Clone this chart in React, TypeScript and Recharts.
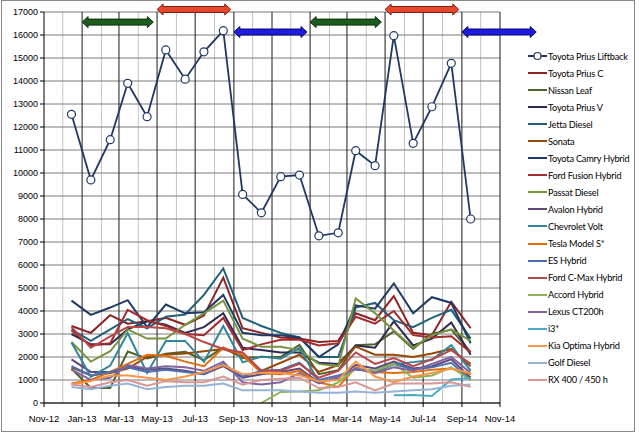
import { LineChart, Line, XAxis, YAxis, CartesianGrid, Legend, ReferenceLine } from 'recharts'

// monthly sales, plotted mid-month
const MONTHS = [
  '2012-12', '2013-01', '2013-02', '2013-03', '2013-04', '2013-05', '2013-06', '2013-07', '2013-08', '2013-09', '2013-10',
  '2013-11', '2013-12', '2014-01', '2014-02', '2014-03', '2014-04', '2014-05', '2014-06', '2014-07', '2014-08', '2014-09',
]

const PRIUS_LIFTBACK = [12550, 9700, 11450, 13900, 12450, 15350, 14080, 15270, 16190, 9070, 8270, 9840, 9910, 7270, 7400, 10970, 10320, 15970, 11290, 12880, 14770, 8000]
const PRIUS_C = [3350, 3050, 3820, 3450, 3550, 3700, 3400, 3800, 5450, 3250, 3050, 2850, 2800, 2650, 2700, 3900, 3600, 4650, 3050, 2950, 4400, 3250]
const NISSAN_LEAF = [1489, 650, 653, 2236, 1937, 2138, 2225, 1864, 2420, 1953, 2002, 2003, 2529, 1252, 1425, 2507, 2555, 3117, 2347, 3019, 3186, 2207]
const PRIUS_V = [3000, 2550, 2550, 3200, 3550, 3400, 3050, 3300, 3900, 2400, 2300, 2200, 2200, 1750, 1700, 2500, 2400, 3550, 2500, 2800, 3500, 2100]
const JETTA_DIESEL = [3200, 2700, 3200, 3650, 3250, 3750, 3850, 4700, 5850, 3700, 3350, 3050, 2850, 2000, 2000, 4150, 4350, 3600, 3300, 3700, 4050, 2800]
const SONATA = [1550, 1200, 1300, 1500, 2000, 2100, 2150, 2250, 2350, 2050, 1400, 1750, 2100, 1350, 1650, 2450, 2100, 2100, 2000, 2150, 2350, 1600]
const CAMRY_HYBRID = [4450, 3830, 4150, 4470, 3300, 4280, 3900, 3950, 4700, 3050, 2950, 2950, 2850, 2000, 2550, 4250, 4100, 5200, 3900, 4600, 4350, 2600]
const FUSION_HYBRID = [3150, 2500, 2600, 4050, 3600, 3350, 3000, 2950, 3700, 2300, 2550, 2750, 2750, 2500, 2600, 3750, 3450, 4000, 2950, 2850, 2900, 2200]
const PASSAT_DIESEL = [2650, 1800, 2250, 3200, 2800, 2800, 3400, 3900, 4450, 2800, 2450, 2450, 2300, 1700, 1600, 4550, 3900, 3150, 2400, 2950, 3200, 2700]
const AVALON_HYBRID = [1900, 1350, 1350, 1600, 1450, 1500, 1400, 1250, 1600, 1100, 1250, 1350, 1500, 900, 1100, 1650, 1500, 1800, 1500, 1600, 1900, 1100]
const CHEVROLET_VOLT = [2633, 1140, 1626, 3042, 1306, 2697, 2698, 1788, 3351, 1766, 2022, 1920, 2392, 918, 1092, 1478, 1324, 1684, 1777, 1873, 2511, 1394]
const TESLA_MODEL_S = [850, 1000, 1350, 1700, 2100, 2050, 1800, 1600, 2400, 2100, 1300, 1250, 1400, 900, 700, 1550, 1350, 1300, 1350, 1450, 1500, 1250]
const ES_HYBRID = [1600, 1200, 1350, 1550, 1350, 1450, 1350, 1250, 1700, 1150, 1400, 1450, 1750, 1000, 1200, 1450, 1400, 1700, 1450, 1550, 1750, 1000]
const CMAX_HYBRID = [3300, 2400, 2900, 3300, 3300, 3250, 3000, 2650, 2350, 2200, 1400, 1400, 1700, 1100, 1400, 2200, 1700, 1950, 1600, 1900, 2300, 1700]
const ACCORD_HYBRID = [null, null, null, null, null, null, null, null, null, null, 0, 480, 500, 550, 900, 1500, 1400, 1700, 1100, 1200, 1550, 1000]
const LEXUS_CT200H = [1450, 1000, 1100, 1650, 1500, 1600, 1550, 1400, 1800, 900, 800, 900, 1300, 850, 1150, 1500, 1300, 1550, 1400, 1700, 2000, 1300]
const BMW_I3 = [null, null, null, null, null, null, null, null, null, null, null, null, null, null, null, null, null, 336, 348, 300, 1025, 1092]
const KIA_OPTIMA = [800, 950, 1200, 1200, 1100, 1000, 1150, 1350, 1650, 1250, 1300, 1300, 1200, 950, 1000, 1800, 1150, 900, 1150, 1300, 1500, 1300]
const GOLF_DIESEL = [700, 600, 750, 850, 600, 700, 750, 750, 850, 550, 550, 550, 500, 450, 450, 500, 450, 500, 550, 600, 750, 800]
const RX_HYBRID = [800, 700, 900, 1000, 750, 950, 900, 900, 1150, 800, 1000, 1050, 1100, 650, 700, 900, 550, 850, 850, 850, 900, 700]

const SERIES = [
  { name: 'Toyota Prius Liftback', values: PRIUS_LIFTBACK },
  { name: 'Toyota Prius C', values: PRIUS_C },
  { name: 'Nissan Leaf', values: NISSAN_LEAF },
  { name: 'Toyota Prius V', values: PRIUS_V },
  { name: 'Jetta Diesel', values: JETTA_DIESEL },
  { name: 'Sonata', values: SONATA },
  { name: 'Toyota Camry Hybrid', values: CAMRY_HYBRID },
  { name: 'Ford Fusion Hybrid', values: FUSION_HYBRID },
  { name: 'Passat Diesel', values: PASSAT_DIESEL },
  { name: 'Avalon Hybrid', values: AVALON_HYBRID },
  { name: 'Chevrolet Volt', values: CHEVROLET_VOLT },
  { name: 'Tesla Model S*', values: TESLA_MODEL_S },
  { name: 'ES Hybrid', values: ES_HYBRID },
  { name: 'Ford C-Max Hybrid', values: CMAX_HYBRID },
  { name: 'Accord Hybrid', values: ACCORD_HYBRID },
  { name: 'Lexus CT200h', values: LEXUS_CT200H },
  { name: 'i3*', values: BMW_I3 },
  { name: 'Kia Optima Hybrid', values: KIA_OPTIMA },
  { name: 'Golf Diesel', values: GOLF_DIESEL },
  { name: 'RX 400 / 450 h', values: RX_HYBRID },
]

const COLORS = [
  '#1F3864', '#8E2222', '#4F6228', '#2E2A52', '#22607A', '#984807', '#1F3A66', '#A32B2B', '#77933C', '#5F497A',
  '#31859C', '#E46C0A', '#4A70B4', '#B8474A', '#8DB255', '#8064A2', '#4BACC6', '#F79646', '#95B3D7', '#D99694',
]

const Y_TICKS = [0, 1000, 2000, 3000, 4000, 5000, 6000, 7000, 8000, 9000, 10000, 11000, 12000, 13000, 14000, 15000, 16000, 17000]
const X_TICKS = ['2012-11', '2013-01', '2013-03', '2013-05', '2013-07', '2013-09', '2013-11', '2014-01', '2014-03', '2014-05', '2014-07', '2014-09', '2014-11']
const MINOR_MONTHS = ['2012-12', '2013-02', '2013-04', '2013-06', '2013-08', '2013-10', '2013-12', '2014-02', '2014-04', '2014-06', '2014-08', '2014-10']

// sales-period arrows drawn over the top of the plot
const PERIODS = [
  { from: '2013-01-01', to: '2013-04-25', kind: 'green' },
  { from: '2013-05-01', to: '2013-08-27', kind: 'red' },
  { from: '2013-09-01', to: '2013-12-27', kind: 'blue' },
  { from: '2014-01-01', to: '2014-04-25', kind: 'green' },
  { from: '2014-05-01', to: '2014-08-27', kind: 'red' },
  { from: '2014-09-01', to: '2014-12-29', kind: 'blue' },
]
const ARROW_KIND: Record<string, { y: number; fill: string; stroke: string }> = {
  green: { y: 16560, fill: '#1E5B1E', stroke: '#0B2E0B' },
  red: { y: 17110, fill: '#E8472B', stroke: '#7A1E10' },
  blue: { y: 16130, fill: '#1C1CE0', stroke: '#0A0A6A' },
}

const MON = ['Jan', 'Feb', 'Mar', 'Apr', 'May', 'Jun', 'Jul', 'Aug', 'Sep', 'Oct', 'Nov', 'Dec']
const NAMES = SERIES.map((s) => s.name)

function toTime(s: string, day = 15) {
  const [y, m, d] = s.split('-').map(Number)
  return Date.UTC(y, m - 1, d || day)
}

const fmtMonth = (t: number) => {
  const d = new Date(t)
  return `${MON[d.getUTCMonth()]}-${String(d.getUTCFullYear()).slice(2)}`
}

const data = MONTHS.map((ym, i) => {
  const row: Record<string, number | null> = { t: toTime(ym) }
  SERIES.forEach((s, k) => {
    row['s' + k] = s.values[i]
  })
  return row
})

function DoubleArrow(props: any) {
  const { x1, x2, y1, fill, stroke } = props
  const y = y1
  const hh = 5.5
  const sh = 3
  const hl = 6
  const d = `M${x1},${y} L${x1 + hl},${y - hh} L${x1 + hl},${y - sh} L${x2 - hl},${y - sh} L${x2 - hl},${y - hh} L${x2},${y} L${x2 - hl},${y + hh} L${x2 - hl},${y + sh} L${x1 + hl},${y + sh} L${x1 + hl},${y + hh} Z`
  return <path d={d} fill={fill} stroke={stroke} strokeWidth={1} strokeLinejoin="round" />
}

function renderLegend(props: any) {
  const items = [...(props.payload || [])].sort((a: any, b: any) => NAMES.indexOf(a.value) - NAMES.indexOf(b.value))
  return (
    <div>
      {items.map((e: any, i: number) => (
        <div key={i} style={{ height: 17.05, display: 'flex', alignItems: 'center', whiteSpace: 'nowrap' }}>
          <svg width={21} height={10} style={{ flex: 'none' }}>
            <line x1={1} y1={5} x2={20} y2={5} stroke={e.color} strokeWidth={2} />
            {e.type === 'line' && <circle cx={10.5} cy={5} r={3.5} fill="#fff" stroke={e.color} strokeWidth={1.2} />}
          </svg>
          <span style={{ fontSize: 9.2, letterSpacing: -0.2, color: '#000', fontFamily: 'Lato, sans-serif' }}>{e.value}</span>
        </div>
      ))}
    </div>
  )
}

export default function App() {
  const font = "'Liberation Sans', Arial, sans-serif"
  return (
    <div style={{ position: 'absolute', left: 0, top: 0, width: 639, height: 435, background: '#fff', fontFamily: font }}>
      <div style={{ position: 'absolute', left: 1, top: 0, width: 634, height: 432, border: '1.5px solid #8a8a8a', boxSizing: 'border-box' }} />
      <div style={{ position: 'absolute', left: 0, top: 0 }}>
        <LineChart width={639} height={435} data={data} margin={{ top: 12, right: 139, bottom: 0, left: 0 }}>
          <CartesianGrid horizontal={false} verticalValues={MINOR_MONTHS.map((m) => toTime(m, 1))} stroke="#c4c4c4" />
          <CartesianGrid vertical={false} stroke="#7a7a7a" />
          <CartesianGrid horizontal={false} verticalValues={X_TICKS.slice(1).map((m) => toTime(m, 1))} stroke="#1a1a1a" />
          <XAxis
            dataKey="t"
            type="number"
            domain={[toTime('2012-11', 1), toTime('2014-11', 1)]}
            ticks={X_TICKS.map((m) => toTime(m, 1))}
            tickFormatter={fmtMonth}
            interval={0}
            allowDataOverflow
            height={32}
            stroke="#000"
            tickSize={4}
            tickMargin={8}
            tick={{ fill: '#000', fontSize: 9.5 }}
          />
          <YAxis
            domain={[0, 17000]}
            ticks={Y_TICKS}
            interval={0}
            width={44}
            stroke="#000"
            tickSize={4}
            tickMargin={2}
            tick={{ fill: '#000', fontSize: 9 }}
          />
          {SERIES.map((s, k) => (
            <Line
              key={s.name}
              type="linear"
              dataKey={'s' + k}
              name={s.name}
              stroke={COLORS[k]}
              strokeWidth={k === 0 ? 1.8 : 2}
              dot={k === 0 ? { r: 4, fill: '#fff', stroke: COLORS[k], strokeWidth: 1.2 } : false}
              legendType={k === 0 ? 'line' : 'plainline'}
              isAnimationActive={false}
            />
          ))}
          {PERIODS.map((p, i) => {
            const st = ARROW_KIND[p.kind]
            return (
              <ReferenceLine
                key={i}
                segment={[
                  { x: toTime(p.from), y: st.y },
                  { x: toTime(p.to), y: st.y },
                ]}
                ifOverflow="visible"
                shape={(lp: any) => <DoubleArrow {...lp} fill={st.fill} stroke={st.stroke} />}
              />
            )
          })}
          <Legend
            layout="vertical"
            align="center"
            verticalAlign="middle"
            wrapperStyle={{ left: 527, top: 47.5, width: 106 }}
            content={renderLegend}
          />
        </LineChart>
      </div>
    </div>
  )
}
